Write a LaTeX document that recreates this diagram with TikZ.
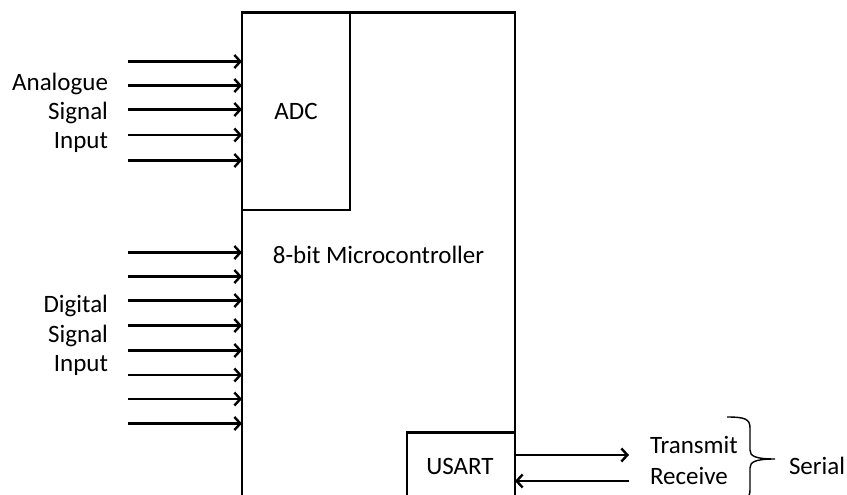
\documentclass[tikz,border=0pt]{standalone}
\usepackage{fontspec}
\setmainfont{Carlito}
\usetikzlibrary{arrows.meta}
\begin{document}
\begin{tikzpicture}[x=1pt,y=-1pt,
  box/.style={draw,line width=2.3pt,inner sep=0pt,outer sep=0pt,rectangle,anchor=north west},
  arr/.style={line width=2.4pt,-{Straight Barb[length=6pt,width=13pt]}},
  lbl/.style={font=\fontsize{25}{30}\selectfont,inner sep=0pt,outer sep=0pt}]
\useasboundingbox (0,0) rectangle (847,495);
\clip (0,0) rectangle (847,495);
% boxes
\node[box,minimum width=273pt,minimum height=510pt] (main) at (242,12.5) {};
\node[box,minimum width=108pt,minimum height=197.5pt] (adc) at (242,12.5) {};
\node[box,minimum width=108pt,minimum height=100pt] (usart) at (407,432.5) {};
\node[lbl,anchor=base] (adct) at (296,120) {ADC};
\node[lbl,anchor=base] (usartt) at (460,474) {USART};
\node[lbl,anchor=base] (mct) at (378.5,263.3) {8-bit Microcontroller};
% analogue inputs
\foreach \i/\y in {1/61.5,2/85.5,3/109.5,4/135,5/160.5}{
  \coordinate (a\i) at (128,\y);
  \draw[arr] (a\i) -- (a\i -| main.west);
}
\node[lbl,anchor=base east] (an1) at (108,90.5) {Analogue};
\node[lbl,anchor=base east] (an2) at (108,119.5) {Signal};
\node[lbl,anchor=base east] (an3) at (108,148.5) {Input};
% digital inputs
\foreach \i/\y in {1/252.5,2/276.5,3/300.5,4/325.5,5/350.5,6/375,7/399,8/423.5}{
  \coordinate (d\i) at (128,\y);
  \draw[arr] (d\i) -- (d\i -| main.west);
}
\node[lbl,anchor=base east] (dg1) at (108,312.7) {Digital};
\node[lbl,anchor=base east] (dg2) at (108,342.2) {Signal};
\node[lbl,anchor=base east] (dg3) at (108,371.7) {Input};
% serial
\coordinate (tx) at (629,455);
\coordinate (rx) at (629,481);
\draw[arr] (tx -| usart.east) -- (tx);
\draw[arr] (rx) -- (rx -| usart.east);
\node[lbl,anchor=base west] (txt) at (650,453.3) {Transmit};
\node[lbl,anchor=base west] (rxt) at (650,484.5) {Receive};
\node[lbl,anchor=base west] (ser) at (789,474) {Serial};
\draw[line width=1.4pt] (727,417) .. controls (745,417) and (750,419) .. (750,428)
  -- (750,450) .. controls (750,456) and (755,459) .. (775,459)
  .. controls (755,459) and (750,462) .. (750,468)
  -- (750,490) .. controls (750,499) and (745,501) .. (727,501);
\end{tikzpicture}
\end{document}
